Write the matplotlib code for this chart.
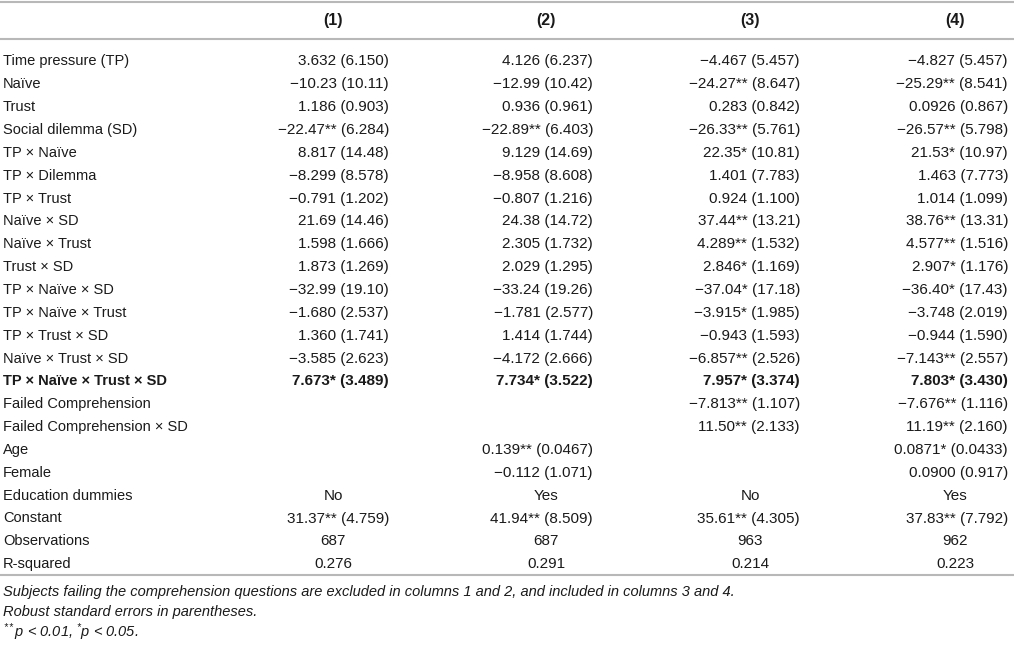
import matplotlib
matplotlib.use("Agg")
import matplotlib.pyplot as plt

# Regression table: rows and the four model columns
rader = ["Time pressure (TP)", "Naïve", "Trust", "Social dilemma (SD)",
         "TP × Naïve", "TP × Dilemma", "TP × Trust", "Naïve × SD",
         "Naïve × Trust", "Trust × SD", "TP × Naïve × SD",
         "TP × Naïve × Trust", "TP × Trust × SD", "Naïve × Trust × SD",
         "TP × Naïve × Trust × SD", "Failed Comprehension",
         "Failed Comprehension × SD", "Age", "Female", "Education dummies",
         "Constant", "Observations", "R-squared"]

kol1 = ["3.632 (6.150)", "−10.23 (10.11)", "1.186 (0.903)", "−22.47** (6.284)",
        "8.817 (14.48)", "−8.299 (8.578)", "−0.791 (1.202)", "21.69 (14.46)",
        "1.598 (1.666)", "1.873 (1.269)", "−32.99 (19.10)", "−1.680 (2.537)",
        "1.360 (1.741)", "−3.585 (2.623)", "7.673* (3.489)", "", "", "", "",
        "No", "31.37** (4.759)", "687", "0.276"]
kol2 = ["4.126 (6.237)", "−12.99 (10.42)", "0.936 (0.961)", "−22.89** (6.403)",
        "9.129 (14.69)", "−8.958 (8.608)", "−0.807 (1.216)", "24.38 (14.72)",
        "2.305 (1.732)", "2.029 (1.295)", "−33.24 (19.26)", "−1.781 (2.577)",
        "1.414 (1.744)", "−4.172 (2.666)", "7.734* (3.522)", "", "",
        "0.139** (0.0467)", "−0.112 (1.071)",
        "Yes", "41.94** (8.509)", "687", "0.291"]
kol3 = ["−4.467 (5.457)", "−24.27** (8.647)", "0.283 (0.842)", "−26.33** (5.761)",
        "22.35* (10.81)", "1.401 (7.783)", "0.924 (1.100)", "37.44** (13.21)",
        "4.289** (1.532)", "2.846* (1.169)", "−37.04* (17.18)", "−3.915* (1.985)",
        "−0.943 (1.593)", "−6.857** (2.526)", "7.957* (3.374)",
        "−7.813** (1.107)", "11.50** (2.133)", "", "",
        "No", "35.61** (4.305)", "963", "0.214"]
kol4 = ["−4.827 (5.457)", "−25.29** (8.541)", "0.0926 (0.867)", "−26.57** (5.798)",
        "21.53* (10.97)", "1.463 (7.773)", "1.014 (1.099)", "38.76** (13.31)",
        "4.577** (1.516)", "2.907* (1.176)", "−36.40* (17.43)", "−3.748 (2.019)",
        "−0.944 (1.590)", "−7.143** (2.557)", "7.803* (3.430)",
        "−7.676** (1.116)", "11.19** (2.160)", "0.0871* (0.0433)", "0.0900 (0.917)",
        "Yes", "37.83** (7.792)", "962", "0.223"]

overskrifter = ["(1)", "(2)", "(3)", "(4)"]
fet_rad = "TP × Naïve × Trust × SD"
sentrert = ["Education dummies", "Observations", "R-squared"]

fotnoter = ["Subjects failing the comprehension questions are excluded in columns 1 and 2, and included in columns 3 and 4.",
            "Robust standard errors in parentheses.",
            "$^{**}$p < 0.01, $^{*}$p < 0.05."]

# layout in pixels
W, H = 1014, 653
hoyre = [389, 593, 800, 1008]
midt = [333, 546, 750, 955]
y0, dy = 61.5, 22.85
farge = "#1a1a1a"
linjefarge = "#b8b8b8"

plt.rcParams['font.family'] = ['Liberation Sans', 'DejaVu Sans']
plt.rcParams['mathtext.fontset'] = 'custom'
plt.rcParams['mathtext.it'] = 'Liberation Sans:italic'
plt.rcParams['mathtext.rm'] = 'Liberation Sans:italic'

fig = plt.figure(figsize=(W / 100, H / 100), dpi=100)
ax = fig.add_axes([0, 0, 1, 1])
ax.set_xlim(0, W)
ax.set_ylim(H, 0)
ax.axis("off")

for y in [2, 39, 575]:
    ax.plot([0, W], [y, y], color=linjefarge, lw=1.5, solid_capstyle="butt")

for x, tekst in zip(midt, overskrifter):
    ax.text(x, 21, tekst, ha="center", va="center", fontsize=11.5,
            fontweight="bold", color=farge)

kolonner = [kol1, kol2, kol3, kol4]
for i, navn in enumerate(rader):
    y = y0 + i * dy
    vekt = "bold" if navn == fet_rad else "normal"
    ax.text(3, y, navn, ha="left", va="center", fontsize=10.5,
            fontweight=vekt, color=farge)
    for j, kol in enumerate(kolonner):
        if not kol[i]:
            continue
        if navn in sentrert:
            ax.text(midt[j], y, kol[i], ha="center", va="center",
                    fontsize=11, fontweight=vekt, color=farge)
        else:
            ax.text(hoyre[j], y, kol[i], ha="right", va="center",
                    fontsize=11, fontweight=vekt, color=farge)

for k, tekst in enumerate(fotnoter):
    ax.text(3, 592 + k * 20, tekst, ha="left", va="center", fontsize=10.5,
            style="italic", color=farge)

fig.savefig("out.png", dpi=100)
